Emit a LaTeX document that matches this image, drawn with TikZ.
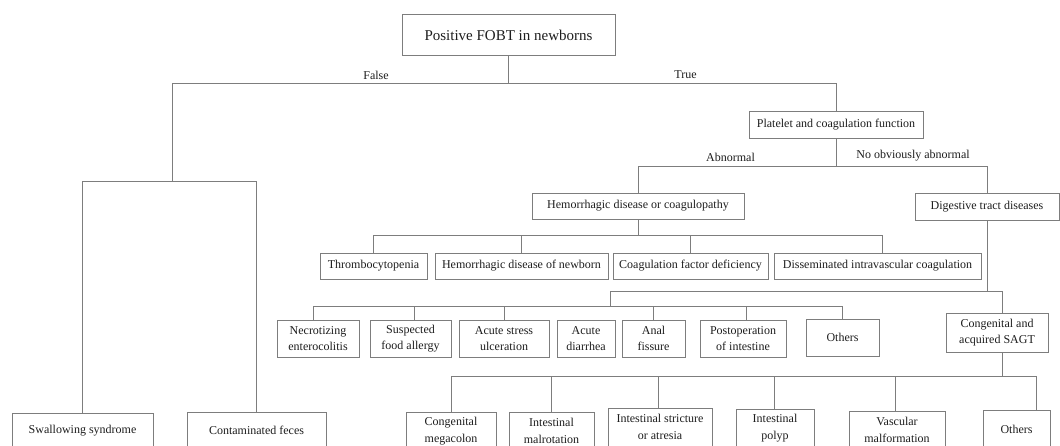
\documentclass[tikz,border=0pt]{standalone}
\usepackage{fontspec}
\setmainfont{Liberation Serif}
\usetikzlibrary{calc}
\definecolor{lc}{RGB}{125,125,125}
\definecolor{tc}{RGB}{30,30,30}
\begin{document}
\begin{tikzpicture}[x=1pt,y=-1pt,
 box/.style={draw=lc, line width=0.8pt, inner sep=0pt, align=center, text=tc, font=\fontsize{12}{16.5}\selectfont},
 conn/.style={draw=lc, line width=0.8pt},
 lab/.style={inner sep=0pt, text=tc, font=\fontsize{12}{14}\selectfont}]
\fill[white] (0,0) rectangle (1060,446);
\useasboundingbox (0,0) rectangle (1060,446);
\clip (0,0) rectangle (1060,446);

% level 0-1
\node[box, minimum width=213pt, minimum height=41.5pt, font=\fontsize{15}{18}\selectfont] (root) at (508.5,35) {Positive FOBT in newborns};
\node[box, minimum width=174pt, minimum height=27pt] (plat) at (836,124.5) {Platelet and coagulation function};
\node[box, minimum width=212pt, minimum height=26pt] (hem) at (638,206) {Hemorrhagic disease or coagulopathy};
\node[box, minimum width=144pt, minimum height=27pt] (dig) at (987,206.5) {Digestive tract diseases};

% left branch
\node[box, minimum width=141pt, minimum height=36pt] (swal) at (82.5,431) {Swallowing syndrome};
\node[box, minimum width=139pt, minimum height=36pt] (cont) at (256.5,430) {Contaminated feces};

% row 2
\node[box, minimum width=107pt, minimum height=26pt] (thr) at (373.5,266) {Thrombocytopenia};
\node[box, minimum width=173pt, minimum height=26pt] (hnb) at (521.5,266) {Hemorrhagic disease of newborn};
\node[box, minimum width=155pt, minimum height=26pt] (coag) at (690.5,266) {Coagulation factor deficiency};
\node[box, minimum width=207pt, minimum height=26pt] (diss) at (877.5,266) {Disseminated intravascular coagulation};

% row 3
\node[box, minimum width=82pt, minimum height=37pt] (nec) at (318,338.5) {Necrotizing\\enterocolitis};
\node[box, minimum width=81pt, minimum height=37pt] (sus) at (410.5,338.5) {Suspected\\food allergy};
\node[box, minimum width=90pt, minimum height=37pt] (acs) at (504,338.5) {Acute stress\\ulceration};
\node[box, minimum width=58pt, minimum height=37pt] (dia) at (586,338.5) {Acute\\diarrhea};
\node[box, minimum width=63pt, minimum height=37pt] (ana) at (653.5,338.5) {Anal\\fissure};
\node[box, minimum width=86pt, minimum height=37pt] (pos) at (743,338.5) {Postoperation\\of intestine};
\node[box, minimum width=73pt, minimum height=37pt] (oth1) at (842.5,337.5) {Others};
\node[box, minimum width=102pt, minimum height=39pt] (sagt) at (997,332.5) {Congenital and\\acquired SAGT};

% row 4
\node[box, minimum width=90pt, minimum height=38pt] (cm) at (451,431) {Congenital\\megacolon};
\node[box, minimum width=85pt, minimum height=38pt] (mal) at (551.5,431) {Intestinal\\malrotation};
\node[box, minimum width=104pt, minimum height=38pt] (str) at (660,427) {Intestinal stricture\\or atresia};
\node[box, minimum width=78pt, minimum height=38pt] (pol) at (775,428) {Intestinal\\polyp};
\node[box, minimum width=96pt, minimum height=38pt] (vas) at (897,430) {Vascular\\malformation};
\node[box, minimum width=67pt, minimum height=38pt] (oth2) at (1016.5,429) {Others};

% helper levels
\coordinate (b1) at (0,83);
\coordinate (lf) at (172,181);
\coordinate (b2) at (0,166.7);
\coordinate (b3) at (0,235);
\coordinate (b4) at (0,291);
\coordinate (j1) at (610,291);
\coordinate (j2) at (610,306);
\coordinate (b6) at (0,376.5);

% root
\draw[conn] (root.south) -- (root.south |- b1);
\draw[conn] (lf) |- (plat.north |- b1) -- (plat.north);
\draw[conn] (swal.north) |- (cont.north |- lf) -- (cont.north);
\node[lab] (lfalse) at (376,75) {False};
\node[lab] (ltrue) at (685.5,75) {True};

% platelet
\draw[conn] (plat.south) -- (plat.south |- b2);
\draw[conn] (hem.north) |- (dig.north |- b2) -- (dig.north);
\node[lab] (labn) at (730.5,157.5) {Abnormal};
\node[lab] (lnoab) at (913,156) {No obviously abnormal};

% hemorrhagic
\draw[conn] (hem.south) -- (hem.south |- b3);
\draw[conn] (thr.north) |- ([xshift=4.5pt]diss.north |- b3) -- ([xshift=4.5pt]diss.north);
\draw[conn] (hnb.north) -- (hnb.north |- b3);
\draw[conn] (coag.north) -- (coag.north |- b3);

% digestive
\draw[conn] (dig.south) -- (dig.south |- b4);
\draw[conn] (j2) -- (j1) -- ([xshift=5pt]sagt.north |- b4) -- ([xshift=5pt]sagt.north);
\draw[conn] ([xshift=-5pt]nec.north) |- (oth1.north |- j2) -- (oth1.north);
\draw[conn] ([xshift=3.5pt]sus.north) -- ([xshift=3.5pt]sus.north |- j2);
\draw[conn] (acs.north) -- (acs.north |- j2);
\draw[conn] (ana.north) -- (ana.north |- j2);
\draw[conn] ([xshift=3pt]pos.north) -- ([xshift=3pt]pos.north |- j2);

% SAGT
\draw[conn] ([xshift=5pt]sagt.south) -- ([xshift=5pt]sagt.south |- b6);
\draw[conn] (cm.north) |- ([xshift=19.5pt]oth2.north |- b6) -- ([xshift=19.5pt]oth2.north);
\draw[conn] (mal.north) -- (mal.north |- b6);
\draw[conn] ([xshift=-2pt]str.north) -- ([xshift=-2pt]str.north |- b6);
\draw[conn] ([xshift=-1pt]pol.north) -- ([xshift=-1pt]pol.north |- b6);
\draw[conn] ([xshift=-2pt]vas.north) -- ([xshift=-2pt]vas.north |- b6);
\end{tikzpicture}
\end{document}
